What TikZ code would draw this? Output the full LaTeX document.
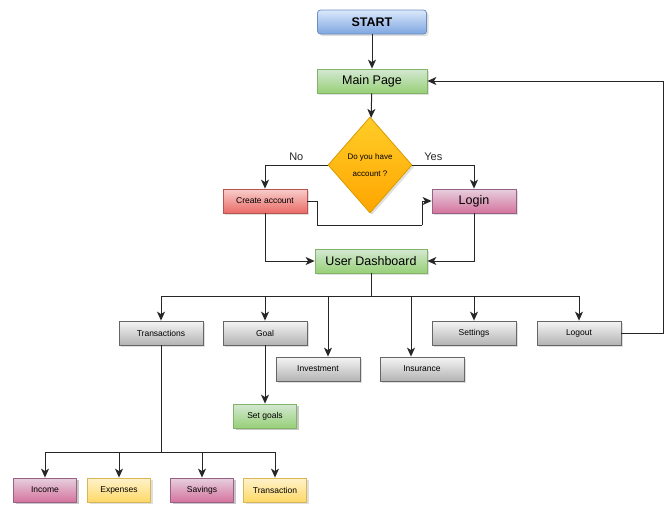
\documentclass[tikz,border=0pt]{standalone}
\usepackage{fontspec}
\setmainfont{Liberation Sans}
\usetikzlibrary{shapes.geometric,arrows.meta,shadows}

\definecolor{startborder}{HTML}{6C8EBF}
\definecolor{starttop}{HTML}{DAE8FC}
\definecolor{startbottom}{HTML}{7EA6E0}
\definecolor{greenborder}{HTML}{82B366}
\definecolor{greentop}{HTML}{D5E8D4}
\definecolor{greenbottom}{HTML}{97D077}
\definecolor{redborder}{HTML}{B85450}
\definecolor{redtop}{HTML}{F8CECC}
\definecolor{redbottom}{HTML}{EA6B66}
\definecolor{pinkborder}{HTML}{996185}
\definecolor{pinktop}{HTML}{E6D0DE}
\definecolor{pinkbottom}{HTML}{D5739D}
\definecolor{greyborder}{HTML}{666666}
\definecolor{greytop}{HTML}{F5F5F5}
\definecolor{greybottom}{HTML}{B3B3B3}
\definecolor{yellowborder}{HTML}{D6B656}
\definecolor{yellowtop}{HTML}{FFF2CC}
\definecolor{yellowbottom}{HTML}{FFD966}
\definecolor{orangeborder}{HTML}{D79B00}
\definecolor{orangetop}{HTML}{FFCD28}
\definecolor{orangebottom}{HTML}{FFA500}

\tikzset{
    box/.style={rectangle, draw, line width=0.8pt, minimum width=84pt,
        minimum height=24pt, inner sep=0pt, font=\fontsize{8.5}{10}\selectfont,
        drop shadow={shadow xshift=2pt, shadow yshift=-2pt, opacity=0.25}},
    smallbox/.style={box, minimum width=63pt},
    bigtext/.style={font=\fontsize{12.5}{14}\selectfont},
    bluebox/.style={box, rounded corners=3pt, draw=startborder, minimum width=109pt,
        top color=starttop, bottom color=startbottom,
        font=\fontsize{12.5}{14}\selectfont\bfseries},
    greenbox/.style={box, draw=greenborder, top color=greentop,
        bottom color=greenbottom},
    redbox/.style={box, draw=redborder, top color=redtop, bottom color=redbottom},
    pinkbox/.style={box, draw=pinkborder, top color=pinktop,
        bottom color=pinkbottom},
    greybox/.style={box, draw=greyborder, top color=greytop, bottom color=greybottom},
    yellowbox/.style={smallbox, draw=yellowborder, top color=yellowtop,
        bottom color=yellowbottom},
    line/.style={line width=1pt, black!85},
    arrow/.style={line, -{Stealth[length=9pt,width=8pt,inset=2.5pt]}}
}

\begin{document}
\begin{tikzpicture}[x=1pt,y=-1pt]
    \useasboundingbox (0,0) rectangle (669,504);

    % Top of the flow
    \node[bluebox] (start) at (372,22) {START};
    \node[greenbox, bigtext, minimum width=110pt] (main) at (372,81) {Main Page};
    \node[diamond, draw=orangeborder, line width=0.8pt, top color=orangetop,
        bottom color=orangebottom, minimum width=84pt, minimum height=96pt, inner sep=0pt,
        aspect=0.875, align=center, font=\fontsize{8}{17}\selectfont,
        drop shadow={shadow xshift=2pt, shadow yshift=-2pt, opacity=0.25}]
        (ask) at (370,165) {Do you have\\account ?};
    \node[redbox] (create) at (265,201) {Create account};
    \node[pinkbox, bigtext] (login) at (474,201) {Login};
    \node[greenbox, bigtext, minimum width=112pt] (dash) at (371,261) {User Dashboard};

    % Menu of the dashboard
    \node[greybox] (trans) at (161,333) {Transactions};
    \node[greybox] (goal) at (265,333) {Goal};
    \node[greybox] (invest) at (318,369) {Investment};
    \node[greybox] (insur) at (422,369) {Insurance};
    \node[greybox] (settings) at (474,333) {Settings};
    \node[greybox] (logout) at (579,333) {Logout};
    \node[greenbox, smallbox] (setgoal) at (265,416) {Set goals};

    % Kinds of transactions
    \node[pinkbox, smallbox] (income) at (45,490) {Income};
    \node[yellowbox] (expense) at (119,490) {Expenses};
    \node[pinkbox, smallbox] (saving) at (202,490) {Savings};
    \node[yellowbox] (transone) at (275,490) {Transaction};

    \coordinate (loopa) at (317,225);
    \coordinate (loopb) at (422,225);
    \coordinate (menubus) at (371,296);
    \coordinate (transbus) at (161,452);
    \coordinate (backbus) at (663,333);

    % Connectors
    \draw[arrow] (start) -- (main);
    \draw[arrow] (main) -- (ask);
    \draw[arrow] (ask.west) -| (create.north)
        node[pos=0.25, above=1pt, font=\fontsize{11}{13}\selectfont] {No};
    \draw[arrow] (ask.east) -| (login.north)
        node[pos=0.17, above=1pt, font=\fontsize{11}{13}\selectfont] {Yes};
    \draw[line] (create.east) -| (loopa) -- (loopb);
    \draw[arrow] (loopb) |- (login.west);
    \draw[arrow] (create.south) |- (dash.west);
    \draw[arrow] (login.south) |- (dash.east);

    \draw[line] (dash.south) -- (menubus);
    \draw[arrow] (menubus) -| (trans.north);
    \draw[arrow] (menubus) -| (goal.north);
    \draw[arrow] (menubus) -| ([xshift=10pt]invest.north);
    \draw[arrow] (menubus) -| ([xshift=-11pt]insur.north);
    \draw[arrow] (menubus) -| (settings.north);
    \draw[arrow] (menubus) -| (logout.north);
    \draw[arrow] (goal) -- (setgoal);
    \draw[arrow] (logout.east) -- (backbus) |- (main.east);

    \draw[line] (trans.south) -- (transbus);
    \draw[arrow] (transbus) -| (income.north);
    \draw[arrow] (transbus) -| (expense.north);
    \draw[arrow] (transbus) -| (saving.north);
    \draw[arrow] (transbus) -| (transone.north);
\end{tikzpicture}
\end{document}
